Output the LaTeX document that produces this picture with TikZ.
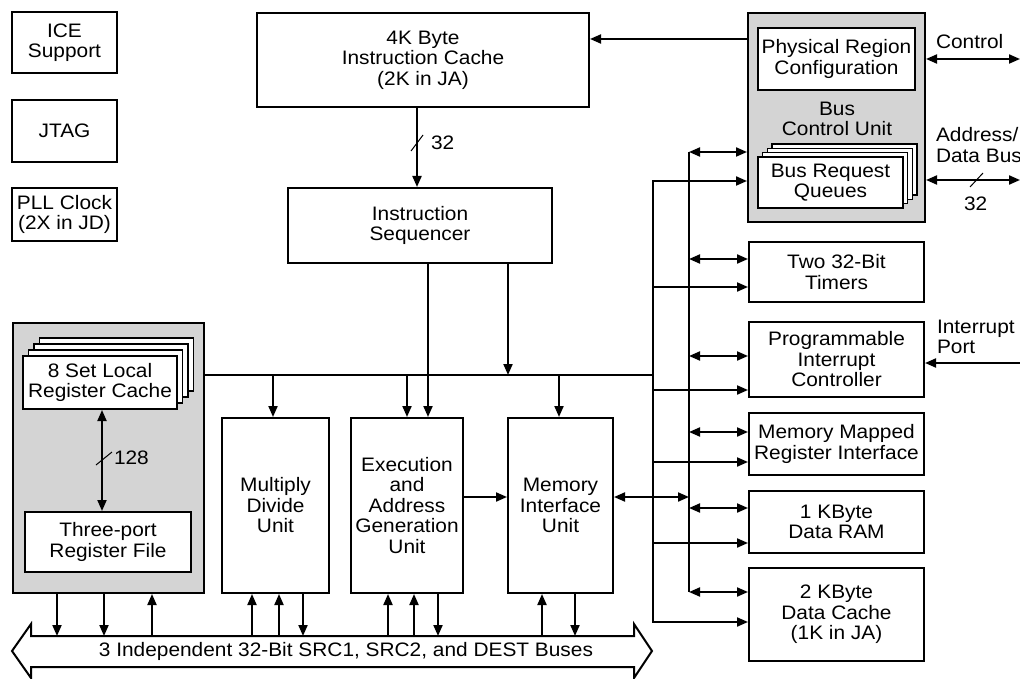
\documentclass[tikz,border=0pt]{standalone}
\usepackage{fontspec}
\setmainfont[FakeStretch=1.07]{Liberation Sans}
\usetikzlibrary{arrows.meta,calc}
\definecolor{bgray}{RGB}{212,212,212}
\begin{document}
\begin{tikzpicture}[x=1pt,y=-1pt,line width=2pt,line join=miter,
  box/.style={draw,rectangle,inner sep=0pt,align=center,fill=white},
  gbox/.style={draw,rectangle,inner sep=0pt,fill=bgray},
  lbl/.style={inner sep=0pt,align=left,anchor=west},
  arr/.style={-{Triangle[length=11pt,width=9pt]}},
  darr/.style={{Triangle[length=11pt,width=9pt]}-{Triangle[length=11pt,width=9pt]}},
  slash/.style={line width=1pt},
  stackbox/.style={draw,fill=white,line width=1.5pt},
  font=\fontsize{19.5}{20.5}\selectfont]
\useasboundingbox (0,0) rectangle (1020,679);

% left small boxes
\node[box,minimum width=105pt,minimum height=61pt] (ice) at (64.5,42.5) {ICE\\Support};
\node[box,minimum width=105pt,minimum height=62pt] (jtag) at (64.5,131) {JTAG};
\node[box,minimum width=105pt,minimum height=53pt] (pll) at (64.5,214.5) {PLL Clock\\(2X in JD)};

% instruction cache & sequencer
\node[box,minimum width=332pt,minimum height=94pt] (icache) at (423,60) {4K Byte\\Instruction Cache\\(2K in JA)};
\node[box,minimum width=264pt,minimum height=75pt] (seq) at (420,225.5) {Instruction\\Sequencer};

% bus control unit
\node[gbox,minimum width=177pt,minimum height=209pt] (bcu) at (836.5,117.5) {};
\node[box,minimum width=157pt,minimum height=62pt] (prc) at (836.5,59) {Physical Region\\Configuration};
\node[align=center,inner sep=0pt] (bcul) at (837,119) {Bus\\Control Unit};
\foreach \k in {3,2,1}
  \draw[stackbox] (758+4.7*\k,157-4.3*\k) rectangle (903+4.7*\k,208-4.3*\k);
\node[box,minimum width=145pt,minimum height=51pt] (brq) at (830.5,182.5) {Bus Request\\Queues};

% right column
\node[box,minimum width=175pt,minimum height=60pt] (timers) at (836.5,272) {Two 32-Bit\\Timers};
\node[box,minimum width=175pt,minimum height=75pt] (pic) at (836.5,359.5) {Programmable\\Interrupt\\Controller};
\node[box,minimum width=175pt,minimum height=62pt] (mmri) at (836.5,444) {Memory Mapped\\Register Interface};
\node[box,minimum width=175pt,minimum height=62pt] (ram) at (836.5,522) {1 KByte\\Data RAM};
\node[box,minimum width=175pt,minimum height=93pt] (dcache) at (836.5,614.5) {2 KByte\\Data Cache\\(1K in JA)};

% register block
\node[gbox,minimum width=191pt,minimum height=270pt] (reg) at (108.5,458) {};
\foreach \k in {3,2,1}
  \draw[stackbox] (23+5.5*\k,356-6*\k) rectangle (177+5.5*\k,409-6*\k);
\node[box,minimum width=154pt,minimum height=53pt] (lrc) at (100,382.5) {8 Set Local\\Register Cache};
\node[box,minimum width=166pt,minimum height=60pt] (trf) at (108,542) {Three-port\\Register File};

% execution units
\node[box,minimum width=107pt,minimum height=175pt] (mult) at (275.5,505.5) {Multiply\\Divide\\Unit};
\node[box,minimum width=112pt,minimum height=175pt] (exec) at (407,505.5) {Execution\\and\\Address\\Generation\\Unit};
\node[box,minimum width=105pt,minimum height=175pt] (miu) at (560.5,505.5) {Memory\\Interface\\Unit};

% labels
\node[lbl] (ctl) at (935,42) {Control};
\node[lbl] (adb) at (935,145) {Address/\\Data Bus};
\node[lbl] (a32) at (963,204) {32};
\node[lbl] (ip) at (936,337) {Interrupt\\Port};
\node[lbl] (c32) at (430,143) {32};
\node[lbl] (c128) at (113,458) {128};

% coordinates
\coordinate (ctop) at (653,181);
\coordinate (cbot) at (653,622);
\coordinate (dtop) at (689,152);
\coordinate (dbot) at (689,592);
\coordinate (hbus) at (0,375);
\coordinate (redge) at (1020,0);
\coordinate (bustop) at (0,636);

% top connections
\draw[arr] (bcu.west |- 0,39) -- (icache.east |- 0,39);
\draw[arr] (icache.south -| 417,0) -- (seq.north -| 417,0);
\draw[slash] (411,151) -- (423,135);
\draw[arr] (seq.south -| 428,0) -- (exec.north -| 428,0);
\draw[arr] (seq.south -| 508,0) -- (508,0 |- hbus);

% internal bus
\draw (reg.east |- hbus) -- (ctop |- hbus);
\draw[arr] (273,0 |- hbus) -- (mult.north -| 273,0);
\draw[arr] (407,0 |- hbus) -- (exec.north -| 407,0);
\draw[arr] (559,0 |- hbus) -- (miu.north -| 559,0);
\draw[arr] (exec.east |- 0,497) -- (miu.west |- 0,497);
\draw[darr] (miu.east |- 0,497) -- (dtop |- 0,497);

% vertical buses
\draw[darr] (bcu.west |- ctop) -- (ctop) -- (cbot) -- (dcache.west |- cbot);
\draw (dtop) -- (dbot);
\draw[darr] (dtop) -- (bcu.west |- dtop);
\draw[darr] (dtop |- 0,259) -- (timers.west |- 0,259);
\draw[darr] (dtop |- 0,356) -- (pic.west |- 0,356);
\draw[darr] (dtop |- 0,432) -- (mmri.west |- 0,432);
\draw[darr] (dtop |- 0,508) -- (ram.west |- 0,508);
\draw[darr] (dbot) -- (dcache.west |- dbot);
\draw[arr] (ctop |- 0,287) -- (timers.west |- 0,287);
\draw[arr] (ctop |- 0,390) -- (pic.west |- 0,390);
\draw[arr] (ctop |- 0,462) -- (mmri.west |- 0,462);
\draw[arr] (ctop |- 0,543) -- (ram.west |- 0,543);

% external
\draw[darr] (bcu.east |- 0,59) -- (redge |- 0,59);
\draw[darr] (bcu.east |- 0,180) -- (redge |- 0,180);
\draw[slash] (970,187) -- (983,173);
\draw[arr] (redge |- 0,363) -- (pic.east |- 0,363);

% register block internal
\draw[darr] (lrc.south -| 102,0) -- (trf.north -| 102,0);
\draw[slash] (96,465) -- (112,452);

% bottom bus
\draw (12,651) -- (31,624) -- (31,636) -- (634,636) -- (634,624) -- (652,651)
  -- (634,678) -- (634,667) -- (31,667) -- (31,678) -- cycle;
\node[inner sep=0pt] (bust) at (346,651) {3 Independent 32-Bit SRC1, SRC2, and DEST Buses};

\draw[arr] (reg.south -| 57,0) -- (57,0 |- bustop);
\draw[arr] (reg.south -| 104,0) -- (104,0 |- bustop);
\draw[arr] (152,0 |- bustop) -- (reg.south -| 152,0);
\draw[arr] (252,0 |- bustop) -- (mult.south -| 252,0);
\draw[arr] (279,0 |- bustop) -- (mult.south -| 279,0);
\draw[arr] (mult.south -| 303,0) -- (303,0 |- bustop);
\draw[arr] (388,0 |- bustop) -- (exec.south -| 388,0);
\draw[arr] (414,0 |- bustop) -- (exec.south -| 414,0);
\draw[arr] (exec.south -| 438,0) -- (438,0 |- bustop);
\draw[arr] (542,0 |- bustop) -- (miu.south -| 542,0);
\draw[arr] (miu.south -| 575,0) -- (575,0 |- bustop);
\end{tikzpicture}
\end{document}
